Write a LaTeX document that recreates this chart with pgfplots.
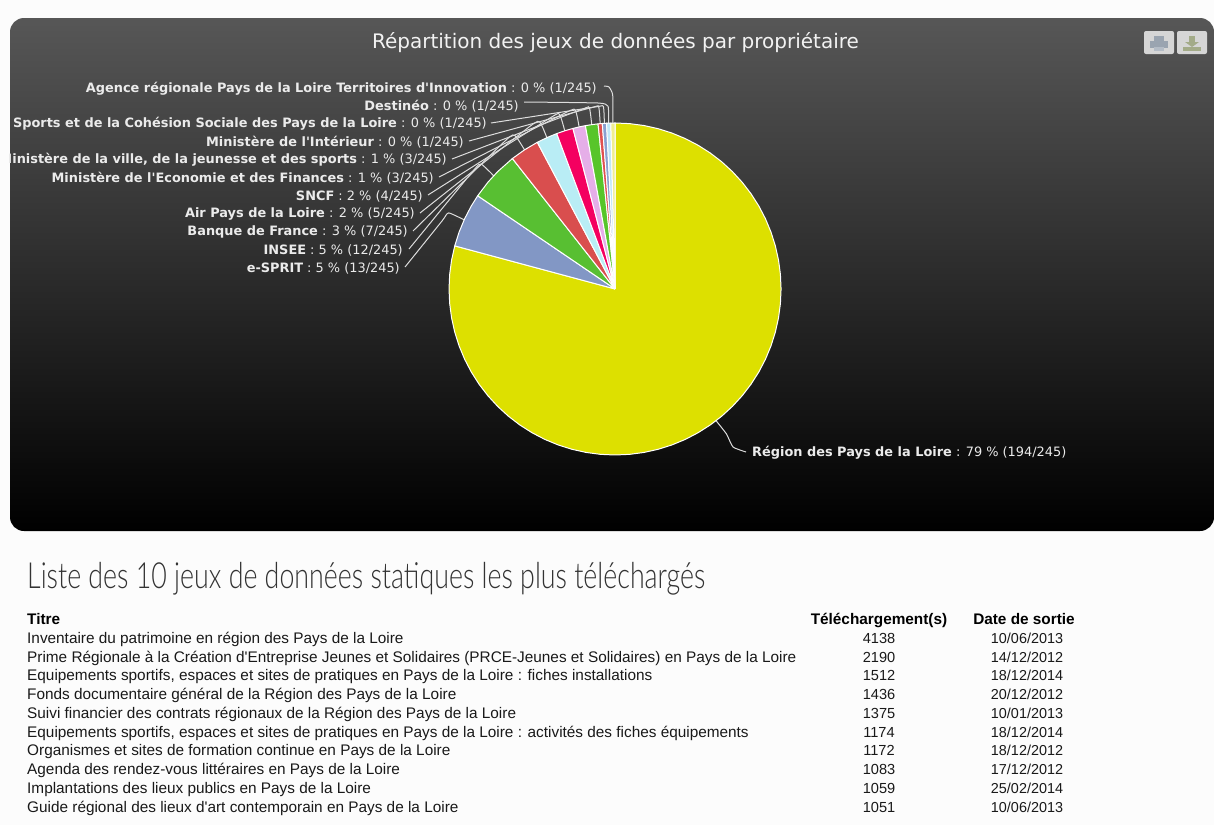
\documentclass[border=0pt]{standalone}
\usepackage{pgfplots}
\pgfplotsset{compat=1.18}
\usepackage{fontspec}
\setmainfont{Liberation Sans}
\newfontfamily\lab{DejaVu Sans}
\newfontfamily\heading[UprightFont={* Light},FakeStretch=0.744]{Lato}
\definecolor{cY}{HTML}{DDE000}
\definecolor{c1}{HTML}{8297C5}
\definecolor{c2}{HTML}{58BF32}
\definecolor{c3}{HTML}{D94E4E}
\definecolor{c4}{HTML}{B9EDF5}
\definecolor{c5}{HTML}{F40060}
\definecolor{c6}{HTML}{E5AEE8}
\definecolor{c7}{HTML}{58C52A}
\definecolor{c8}{HTML}{E0504F}
\definecolor{c9}{HTML}{8AA0D0}
\definecolor{c10}{HTML}{C0E8F8}
\definecolor{c11}{HTML}{F0EF90}
\definecolor{conn}{HTML}{DDDDDD}
\definecolor{btn}{HTML}{D6D6D6}
\definecolor{prt}{HTML}{9AA4B0}
\definecolor{prl}{HTML}{B4BCC6}
\definecolor{dwn}{HTML}{A3AB88}
\newcommand\LB[4]{\node[anchor=east,inner sep=0pt,text=white!92!black,font=\lab\fontsize{12.9}{14}\selectfont] at (axis cs:#1,#2+1) {\textbf{#3} : #4};}
\newcommand\RW[4]{%
 \node[anchor=base west,inner sep=0pt,font=\fontsize{15.35}{17}\selectfont,text=black!90] at (axis cs:27,#1+5) {#2};
 \node[anchor=base,inner sep=0pt,font=\fontsize{14.6}{17}\selectfont,text=black!90] at (axis cs:879,#1+5) {#3};
 \node[anchor=base,inner sep=0pt,font=\fontsize{14.4}{17}\selectfont,text=black!90] at (axis cs:1027,#1+5) {#4};}
\newcommand\q{\textquotesingle}
\pgfplotsset{pix/.style={at={(0,0)},anchor=south west,scale only axis,width=1214pt,height=825pt,hide axis,clip=false}}
\begin{document}
\begin{tikzpicture}
\path[use as bounding box] (0,0) rectangle (1214pt,825pt);
\begin{axis}[pix,xmin=0,xmax=1214,ymin=0,ymax=825,y dir=reverse]
\fill[white!99!black] (axis cs:0,0) rectangle (axis cs:1214,825);
\shade[top color=black!66,bottom color=black,rounded corners=14pt] (axis cs:10,18) rectangle (axis cs:1214,531);
% title
\node[text=white!95!black,font=\lab\fontsize{20}{22}\selectfont] at (axis cs:615.5,43) {Répartition des jeux de données par propriétaire};
% buttons
\fill[btn,rounded corners=2pt] (axis cs:1144,31) rectangle (axis cs:1174,54);
\fill[btn,rounded corners=2pt] (axis cs:1177,31) rectangle (axis cs:1207,54);
\fill[prt] (axis cs:1154,36) rectangle (axis cs:1164,41);
\fill[prt] (axis cs:1150,41) rectangle (axis cs:1168,48);
\fill[prl] (axis cs:1154,47) rectangle (axis cs:1164,51);
\fill[dwn] (axis cs:1189,36) rectangle (axis cs:1195,42);
\fill[dwn] (axis cs:1185,42) -- (axis cs:1199,42) -- (axis cs:1192,47) -- cycle;
\fill[dwn] (axis cs:1183,47) rectangle (axis cs:1201,51);
% connectors
\addplot[conn,line width=1pt,smooth,tension=0.3,mark=none] coordinates {(405,267)(442,221)(448.6,212.9)(465,220.3)};
\addplot[conn,line width=1pt,smooth,tension=0.3,mark=none] coordinates {(409,249)(473,171)(481,164)(494.4,176.5)};
\addplot[conn,line width=1pt,smooth,tension=0.3,mark=none] coordinates {(413,231)(505,141)(515,135.6)(525,150.7)};
\addplot[conn,line width=1pt,smooth,tension=0.3,mark=none] coordinates {(420,213)(529,127)(539.8,122.1)(547.2,138.5)};
\addplot[conn,line width=1pt,smooth,tension=0.3,mark=none] coordinates {(428,195)(550,118)(559.6,114.6)(565,131.7)};
\addplot[conn,line width=1pt,smooth,tension=0.3,mark=none] coordinates {(439,177)(565,113)(575.4,110.3)(579.3,128)};
\addplot[conn,line width=1pt,smooth,tension=0.3,mark=none] coordinates {(452,159)(580,110)(589.3,107.8)(591.8,125.6)};
\addplot[conn,line width=1pt,smooth,tension=0.3,mark=none] coordinates {(469,141)(590,108)(598.6,106.7)(600.2,124.7)};
\addplot[conn,line width=1pt,smooth,tension=0.3,mark=none] coordinates {(491,123)(595,107)(603.3,106.4)(604.4,124.3)};
\addplot[conn,line width=1pt,smooth,tension=0.3,mark=none] coordinates {(524,102)(598,103)(608,106.2)(608.7,124.2)};
\addplot[conn,line width=1pt,smooth,tension=0.3,mark=none] coordinates {(604,86)(609,87)(612.7,95)(612.9,124)};
\addplot[conn,line width=1pt,smooth,tension=0.3,mark=none] coordinates {(746,452)(733,447)(726.5,434)(715.5,420)};
% labels
\begin{scope}
\clip (axis cs:9,18) rectangle (axis cs:1214,531);
\LB{597}{88}{Agence régionale Pays de la Loire Territoires d'Innovation}{0 \% (1/245)}
\LB{519}{105.5}{Destinéo}{0 \% (1/245)}
\LB{487}{123}{Sports et de la Cohésion Sociale des Pays de la Loire}{0 \% (1/245)}
\LB{464}{141}{Ministère de l'Intérieur}{0 \% (1/245)}
\LB{447}{159}{Ministère de la ville, de la jeunesse et des sports}{1 \% (3/245)}
\LB{434}{177}{Ministère de l'Economie et des Finances}{1 \% (3/245)}
\LB{423}{195}{SNCF}{2 \% (4/245)}
\LB{415}{213}{Air Pays de la Loire}{2 \% (5/245)}
\LB{408}{231}{Banque de France}{3 \% (7/245)}
\LB{403}{249}{INSEE}{5 \% (12/245)}
\LB{400}{267}{e-SPRIT}{5 \% (13/245)}
\end{scope}
\node[anchor=west,inner sep=0pt,text=white!92!black,font=\lab\fontsize{12.9}{14}\selectfont] at (axis cs:752,453) {\textbf{Région des Pays de la Loire} : 79 \% (194/245)};
% heading
\node[anchor=west,inner sep=0pt,text=black!80,font=\heading\fontsize{36}{40}\selectfont] at (axis cs:27,579) {Liste des 10 jeux de données statiques les plus téléchargés};
% table
\node[anchor=base west,inner sep=0pt,font=\bfseries\fontsize{15.35}{17}\selectfont] at (axis cs:27,624.5) {Titre};
\node[anchor=base,inner sep=0pt,font=\bfseries\fontsize{15.35}{17}\selectfont] at (axis cs:879,624.5) {Téléchargement(s)};
\node[anchor=base,inner sep=0pt,font=\bfseries\fontsize{15.35}{17}\selectfont] at (axis cs:1024,624.5) {Date de sortie};
\RW{638}{Inventaire du patrimoine en région des Pays de la Loire}{4138}{10/06/2013}
\RW{657}{Prime Régionale à la Création d\q Entreprise Jeunes et Solidaires (PRCE-Jeunes et Solidaires) en Pays de la Loire}{2190}{14/12/2012}
\RW{675.5}{Equipements sportifs, espaces et sites de pratiques en Pays de la Loire : fiches installations}{1512}{18/12/2014}
\RW{694}{Fonds documentaire général de la Région des Pays de la Loire}{1436}{20/12/2012}
\RW{713}{Suivi financier des contrats régionaux de la Région des Pays de la Loire}{1375}{10/01/2013}
\RW{732}{Equipements sportifs, espaces et sites de pratiques en Pays de la Loire : activités des fiches équipements}{1174}{18/12/2014}
\RW{750.5}{Organismes et sites de formation continue en Pays de la Loire}{1172}{18/12/2012}
\RW{769.5}{Agenda des rendez-vous littéraires en Pays de la Loire}{1083}{17/12/2012}
\RW{788}{Implantations des lieux publics en Pays de la Loire}{1059}{25/02/2014}
\RW{807}{Guide régional des lieux d\q art contemporain en Pays de la Loire}{1051}{10/06/2013}
\end{axis}
\begin{axis}[pix,xmin=-615,xmax=599,ymin=-536,ymax=289]
\pgfplotsset{every axis plot/.append style={data cs=polar,draw=white,line width=1pt,line join=round,mark=none}}
\addplot[fill=cY] coordinates {(0,0)(90,166)(85,166)(80,166)(75,166)(70,166)(65,166)(60,166)(55,166)(50,166)(45,166)(40,166)(35,166)(30,166)(25,166)(20,166)(15,166)(10,166)(5,166)(0,166)(-5,166)(-10,166)(-15,166)(-20,166)(-25,166)(-30,166)(-35,166)(-40,166)(-45,166)(-50,166)(-55,166)(-60,166)(-65,166)(-70,166)(-75,166)(-80,166)(-85,166)(-90,166)(-95,166)(-100,166)(-105,166)(-110,166)(-115,166)(-120,166)(-125,166)(-130,166)(-135,166)(-140,166)(-145,166)(-150,166)(-155,166)(-160,166)(-165,166)(-170,166)(-175,166)(-180,166)(-185,166)(-190,166)(-195.06,166)(0,0)};
\addplot[fill=c1] coordinates {(0,0)(164.94,166)(160,166)(155,166)(150,166)(145.84,166)(0,0)};
\addplot[fill=c2] coordinates {(0,0)(145.84,166)(140,166)(135,166)(128.2,166)(0,0)};
\addplot[fill=c3] coordinates {(0,0)(128.2,166)(123,166)(117.92,166)(0,0)};
\addplot[fill=c4] coordinates {(0,0)(117.92,166)(114,166)(110.57,166)(0,0)};
\addplot[fill=c5] coordinates {(0,0)(110.57,166)(107.6,166)(104.69,166)(0,0)};
\addplot[fill=c6] coordinates {(0,0)(104.69,166)(102.5,166)(100.29,166)(0,0)};
\addplot[fill=c7] coordinates {(0,0)(100.29,166)(98,166)(95.88,166)(0,0)};
\addplot[fill=c8] coordinates {(0,0)(95.88,166)(94.41,166)(0,0)};
\addplot[fill=c9] coordinates {(0,0)(94.41,166)(92.94,166)(0,0)};
\addplot[fill=c10] coordinates {(0,0)(92.94,166)(91.47,166)(0,0)};
\addplot[fill=c11] coordinates {(0,0)(91.47,166)(90,166)(0,0)};
\end{axis}
\end{tikzpicture}
\end{document}
